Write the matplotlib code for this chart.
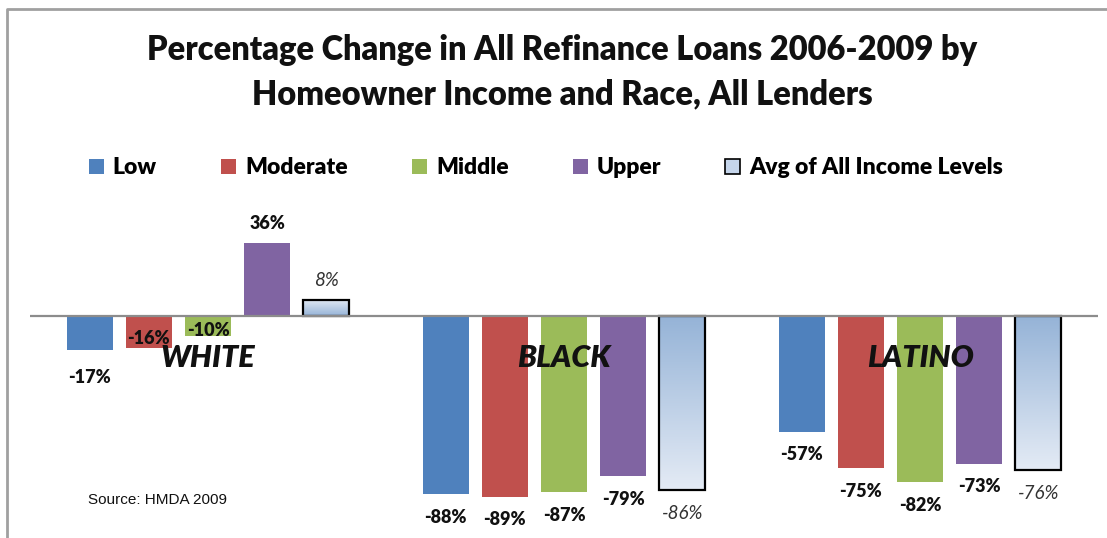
import numpy as np
import matplotlib
matplotlib.use("Agg")
import matplotlib.pyplot as plt
from matplotlib.colors import LinearSegmentedColormap
from matplotlib.patches import Patch
from matplotlib.lines import Line2D

# ---- data (percent change 2006-2009) ----
groups = ["WHITE", "BLACK", "LATINO"]
series_names = ["Low", "Moderate", "Middle", "Upper", "Avg of All Income Levels"]
low = [-17, -88, -57]
moderate = [-16, -89, -75]
middle = [-10, -87, -82]
upper = [36, -79, -73]
avg_all = [8, -86, -76]

series_values = [low, moderate, middle, upper, avg_all]
bar_colors = ["#4F81BD", "#C0504D", "#9BBB59", "#8064A2"]

# label offset overrides in points, keyed by (series, group)
label_nudge = {(0, 0): -19.5, (1, 0): 7, (2, 0): 4.3}

FONT = ["Lato", "DejaVu Sans"]
plt.rcParams["font.family"] = FONT

W, H = 1107, 538
fig = plt.figure(figsize=(W / 100, H / 100), dpi=100)
ax = fig.add_axes([30 / W, 9 / H, 1068 / W, 304.5 / H])
ax.axis("off")

x = np.arange(len(groups))
step = 0.1663
width = 0.129

grad_cmap = LinearSegmentedColormap.from_list("avg", ["#E4EBF5", "#95B3D7"])

for i, vals in enumerate(series_values):
    xs = x + (i - 2) * step
    if i < 4:
        bars = ax.bar(xs, vals, width, color=bar_colors[i], edgecolor="none", zorder=3)
    else:
        bars = ax.bar(xs, vals, width, facecolor="none", edgecolor="black",
                      linewidth=1.6, zorder=4)
        # gradient fill, darker next to the zero line
        for rect in bars:
            x0, w, h = rect.get_x(), rect.get_width(), rect.get_height()
            g = np.linspace(0, 1, 200).reshape(-1, 1)
            if h > 0:
                g = g[::-1]
            im = ax.imshow(g, cmap=grad_cmap, aspect="auto", origin="lower",
                           extent=[x0, x0 + w, min(0, h), max(0, h)], zorder=3)
            im.set_clip_path(rect)
    for j, (xv, v) in enumerate(zip(xs, vals)):
        off = label_nudge.get((i, j), 14 if v > 0 else -16.5)
        if i < 4:
            kw = dict(fontweight="heavy", color="#111111", fontsize=13)
        else:
            kw = dict(fontstyle="italic", color="#333333", fontsize=13.5)
        ax.annotate(f"{v}%", (xv, v), xytext=(0, off), textcoords="offset points",
                    ha="center", va="center", **kw)

ax.set_xlim(-0.5, 2.5)
ax.set_ylim(-105, 45)
ax.axhline(0, color="#8c8c8c", linewidth=1.6, zorder=5)

for j, name in enumerate(groups):
    ax.annotate(name, (x[j], 0), xytext=(0, -30), textcoords="offset points",
                ha="center", va="center", fontsize=22, fontweight="heavy",
                fontstyle="italic", color="#111111", zorder=6)

# title
fig.text(562 / W, 1 - 72 / H,
         "Percentage Change in All Refinance Loans 2006-2009 by\nHomeowner Income and Race, All Lenders",
         ha="center", va="center", fontsize=23.5, fontweight="heavy",
         linespacing=1.45, color="#111111")

# legend
handles = [Patch(facecolor=c, edgecolor="none") for c in bar_colors]
handles.append(Patch(facecolor="#C5D5EB", edgecolor="black", linewidth=1.2))
fig.legend(handles, series_names, loc="center", bbox_to_anchor=(546 / W, 1 - 168 / H),
           ncol=5, frameon=False, prop={"family": FONT, "weight": "heavy", "size": 16.5},
           handlelength=0.65, handleheight=0.65, handletextpad=0.4, columnspacing=2.8)

fig.text(88 / W, 1 - 500 / H, "Source: HMDA 2009", family=["Liberation Sans", "DejaVu Sans"],
         fontsize=11, va="center", ha="left", color="#111111")

# chart border (left and top edges visible)
fig.add_artist(Line2D([7 / W, 7 / W, 1.0], [0.0, 1 - 9 / H, 1 - 9 / H],
                      transform=fig.transFigure, color="#a0a0a0", linewidth=2))

fig.savefig("out.png", dpi=100)
